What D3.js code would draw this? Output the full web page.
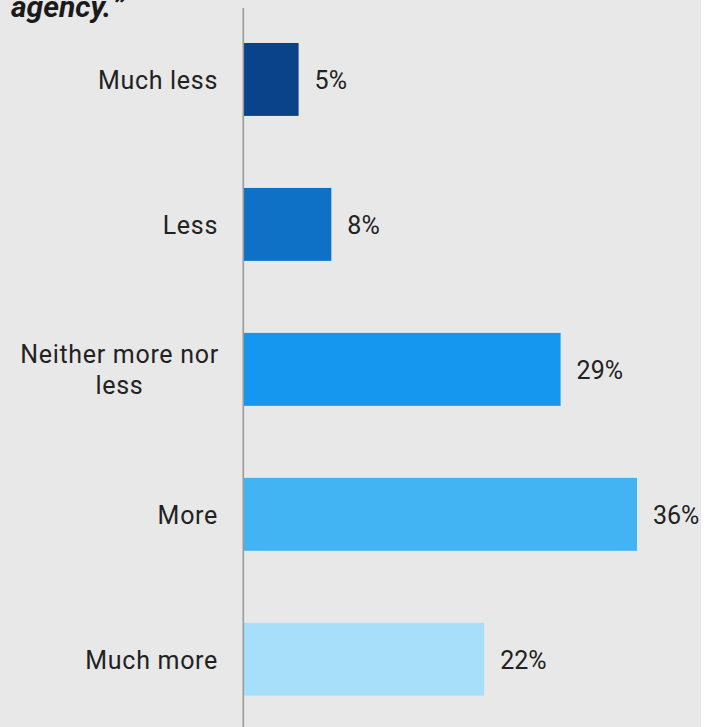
<!DOCTYPE html>
<html>
<head>
<meta charset="utf-8">
<script src="https://cdn.jsdelivr.net/npm/d3@7"></script>
<style>
  html, body { margin: 0; padding: 0; background: #ffffff; }
  svg { display: block; }
  text { font-family: Roboto, "Noto Sans", sans-serif; }
</style>
</head>
<body>
<svg id="chart" width="719" height="727"></svg>
<script>
// Survey responses: share of respondents per answer
const categories = ["Much less", "Less", "Neither more nor less", "More", "Much more"];
const categoryLines = [["Much less"], ["Less"], ["Neither more nor", "less"], ["More"], ["Much more"]];
const values = [5, 8, 29, 36, 22];
const valueLabels = ["5%", "8%", "29%", "36%", "22%"];
const barColors = ["#0a4389", "#0e71c6", "#1596ef", "#42b4f4", "#a7def9"];
const titleTail = ["agency.", "\u201D"];

const width = 719, height = 727;
const panelWidth = 701;
const svg = d3.select("#chart");

// light grey panel
svg.append("rect")
  .attr("x", 0).attr("y", 0)
  .attr("width", panelWidth).attr("height", height)
  .attr("fill", "#e8e8e8");

// last line of the question heading
const title = svg.append("text")
  .attr("x", 11).attr("y", 17)
  .attr("font-size", 30)
  .attr("font-weight", 700)
  .attr("font-style", "italic")
  .attr("fill", "#1a1a1a");
title.append("tspan").text(titleTail[0]);
title.append("tspan").attr("dx", 5).text(titleTail[1]);

const x = d3.scaleLinear().domain([0, 36]).range([244, 637]);
const y = d3.scaleBand()
  .domain(categories)
  .range([6.75, 732])
  .paddingInner(0.497)
  .paddingOuter(0.25);

// bars
svg.append("g").selectAll("rect")
  .data(categories)
  .join("rect")
  .attr("x", x(0))
  .attr("y", d => y(d))
  .attr("width", (d, i) => x(values[i]) - x(0))
  .attr("height", y.bandwidth())
  .attr("fill", (d, i) => barColors[i]);

// vertical baseline
svg.append("line")
  .attr("x1", 243.3).attr("x2", 243.3)
  .attr("y1", 8).attr("y2", height)
  .attr("stroke", "#9a9a9a")
  .attr("stroke-width", 1.6);

const fontSize = 25;
const lineHeight = 31;

// category labels, text block ending near the axis
const catG = svg.append("g");
categories.forEach((c, i) => {
  const lines = categoryLines[i];
  const cy = y(c) + y.bandwidth() / 2;
  if (lines.length === 1) {
    catG.append("text")
      .attr("x", 218)
      .attr("y", cy + 9.5)
      .attr("text-anchor", "end")
      .attr("font-size", fontSize)
      .attr("letter-spacing", 0.7)
      .attr("fill", "#222222")
      .text(lines[0]);
  } else {
    const t = catG.append("text")
      .attr("font-size", fontSize)
      .attr("letter-spacing", 0.7)
      .attr("fill", "#222222")
      .attr("text-anchor", "middle");
    const first = cy + 9.5 - lineHeight * (lines.length - 1) / 2;
    lines.forEach((ln, k) => {
      t.append("tspan")
        .attr("x", 119.5)
        .attr("y", first + k * lineHeight)
        .text(ln);
    });
  }
});

// value labels
svg.append("g").selectAll("text")
  .data(categories)
  .join("text")
  .attr("x", (d, i) => x(values[i]) + 16)
  .attr("y", d => y(d) + y.bandwidth() / 2 + 9.5)
  .attr("font-size", fontSize)
  .attr("fill", "#222222")
  .text((d, i) => valueLabels[i]);

// right margin stays white
svg.append("rect")
  .attr("x", panelWidth).attr("y", 0)
  .attr("width", width - panelWidth).attr("height", height)
  .attr("fill", "#ffffff");
</script>
</body>
</html>
